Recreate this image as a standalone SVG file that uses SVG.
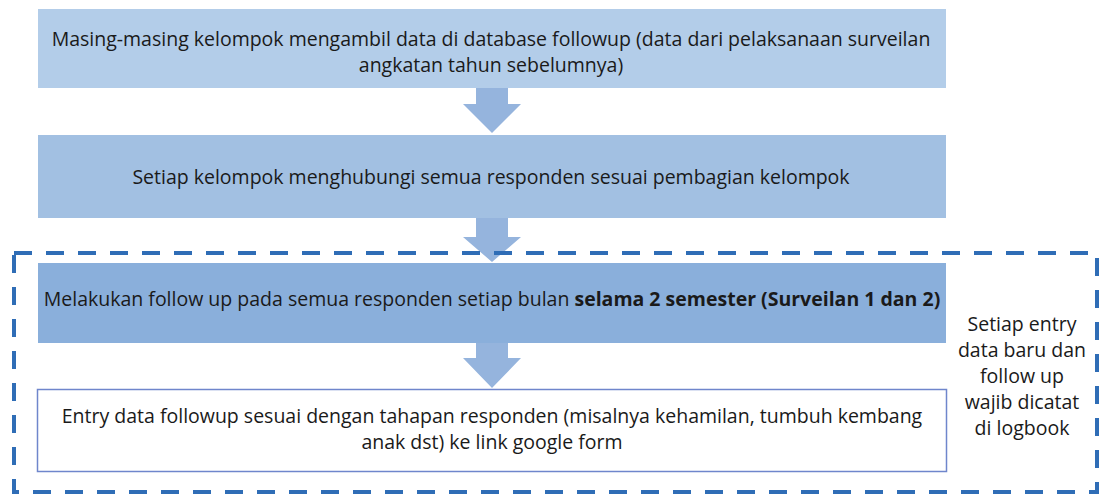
<svg xmlns="http://www.w3.org/2000/svg" width="1101" height="495" viewBox="0 0 1101 495">
<style>
text{font-family:"Open Sans","Liberation Sans",sans-serif;font-size:19.5px;fill:#1a1a1a;text-anchor:middle}
.b{font-weight:bold}
.arrow{fill:#95B4DD}
</style>
<rect width="1101" height="495" fill="#ffffff"/>
<g id="connectors">
<path class="arrow" d="M476,88 H508 V104 H521 L492,133 L463,104 H476 Z"/>
<path class="arrow" d="M476,218 H508 V237 H521 L492,262 L463,237 H476 Z"/>
<path class="arrow" d="M476,343 H508 V358 H521 L492,388 L463,358 H476 Z"/>
</g>
<g id="group-border">
<rect x="14" y="253" width="1083" height="239" fill="none" stroke="#2F6DB6" stroke-width="4" stroke-dasharray="18 14"/>
</g>
<g id="node1">
<rect x="38" y="9" width="908" height="79" fill="#B3CDE9"/>
<text x="491" y="46">Masing-masing kelompok mengambil data di database followup (data dari pelaksanaan surveilan</text>
<text x="491" y="72">angkatan tahun sebelumnya)</text>
</g>
<g id="node2">
<rect x="38" y="135" width="908" height="83" fill="#A2C0E2"/>
<text x="491" y="184">Setiap kelompok menghubungi semua responden sesuai pembagian kelompok</text>
</g>
<g id="node3">
<rect x="38" y="263" width="908" height="80" fill="#8AAFDB"/>
<text x="492" y="306">Melakukan follow up pada semua responden setiap bulan <tspan class="b">selama 2 semester (Surveilan 1 dan 2)</tspan></text>
</g>
<g id="node4">
<rect x="37.5" y="389.5" width="909" height="82" fill="#ffffff" stroke="#6F86CC" stroke-width="1.5"/>
<text x="492" y="423">Entry data followup sesuai dengan tahapan responden (misalnya kehamilan, tumbuh kembang</text>
<text x="492" y="449">anak dst) ke link google form</text>
</g>
<g id="note">
<text x="1022" y="331">Setiap entry</text>
<text x="1022" y="357">data baru dan</text>
<text x="1022" y="383">follow up</text>
<text x="1022" y="409">wajib dicatat</text>
<text x="1022" y="435">di logbook</text>
</g>
</svg>
